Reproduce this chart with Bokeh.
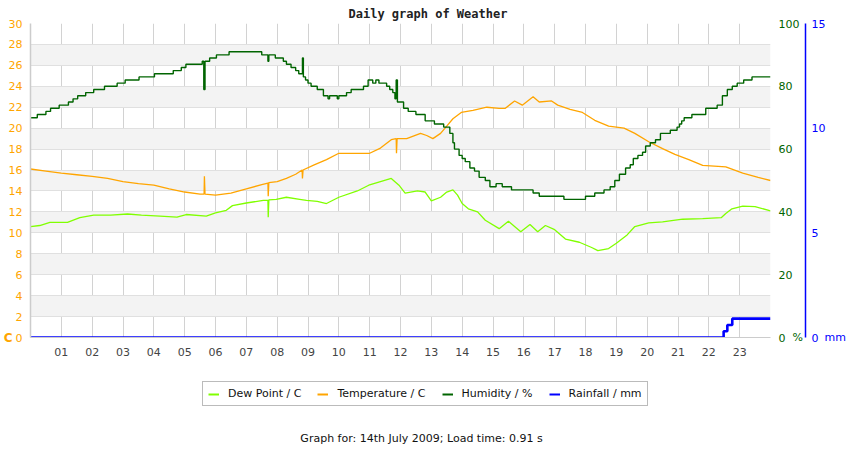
from bokeh.embed import file_html
from bokeh.layouts import column
from bokeh.models import FixedTicker, Label, Legend, LegendItem, LinearAxis, Range1d
from bokeh.plotting import figure
from bokeh.resources import INLINE

# axis ticks
hours = list(range(1, 24))
hour_labels = ["%02d" % h for h in hours]
grid_hours = list(range(0, 25))
temp_ticks = list(range(0, 31, 2))
hum_ticks = [0, 20, 40, 60, 80, 100]
rain_ticks = [0, 5, 10, 15]

# humidity (%) - step values
hum_t = [0.0, 0.22, 0.5, 0.65, 0.93, 1.23, 1.38, 1.53, 1.79, 2.05, 2.4, 2.81, 3.07, 3.52,
         4.02, 4.63, 4.89, 5.04, 5.57, 5.62, 5.66, 5.81, 6.03, 6.44, 7.5, 7.7, 7.73, 7.94,
         8.2, 8.3, 8.45, 8.6, 8.7, 8.82, 8.85, 8.92, 9.0, 9.1, 9.3, 9.5, 9.65, 9.7, 9.95,
         10.0, 10.25, 10.4, 10.8, 10.95, 11.1, 11.2, 11.3, 11.55, 11.65, 11.75, 11.82, 11.86,
         11.9, 12.1, 12.25, 12.5, 12.8, 13.1, 13.4, 13.6, 13.7, 13.75, 13.9, 14.0, 14.1,
         14.25, 14.4, 14.55, 14.75, 14.9, 15.1, 15.3, 15.6, 16.3, 16.5, 17.3, 18.0, 18.3,
         18.6, 18.8, 18.95, 19.1, 19.3, 19.45, 19.55, 19.7, 19.85, 19.95, 20.1, 20.27,
         20.43, 20.75, 20.97, 21.05, 21.12, 21.2, 21.45, 21.9, 22.27, 22.44, 22.6, 22.76,
         22.92, 23.13, 23.4, 24.0]
hum_v = [70, 71, 72, 73, 74, 75, 76, 77, 78, 79, 80, 81, 82, 83,
         84, 85, 86, 87, 88, 79, 88, 89, 90, 91, 90, 88, 90, 89,
         88, 87, 86, 85, 84, 89, 83, 82, 81, 80, 79, 77, 76, 77, 76,
         77, 78, 79, 80, 82, 81, 82, 81, 80, 79, 78, 76, 82,
         75, 73, 72, 71, 69, 68, 67, 65, 62, 60, 58, 57, 56,
         54, 53, 51, 50, 48, 49, 48, 47, 46, 45, 44, 45, 46,
         47, 48, 50, 52, 54, 55, 57, 58, 59, 61, 62, 63,
         65, 66, 67, 68, 69, 70, 71, 73, 74, 77, 79, 80,
         81, 82, 83, 83]

# temperature (C)
temp_t = [0.0, 0.5, 1.0, 1.5, 2.0, 2.5, 3.0, 3.5, 4.0, 4.5, 5.0, 5.5, 5.63, 5.64, 5.66,
          6.0, 6.5, 7.0, 7.5, 7.7, 7.71, 7.73, 8.0, 8.3, 8.6, 8.81, 8.82, 8.84, 9.2, 9.6,
          10.0, 10.6, 11.0, 11.35, 11.7, 11.86, 11.87, 11.89, 12.2, 12.65, 12.85, 13.05,
          13.3, 13.5, 13.7, 13.97, 14.35, 14.8, 15.2, 15.4, 15.7, 15.95, 16.3, 16.5, 16.9,
          17.1, 17.5, 17.9, 18.3, 18.75, 19.25, 19.6, 20.05, 20.5, 20.9, 21.35, 21.8,
          22.55, 23.1, 23.6, 24.0]
temp_v = [16.1, 15.9, 15.7, 15.55, 15.4, 15.2, 14.9, 14.7, 14.55, 14.2, 13.9, 13.7, 13.7, 15.4, 13.7,
          13.6, 13.8, 14.2, 14.6, 14.75, 13.5, 14.8, 14.9, 15.2, 15.6, 16.0, 15.2, 16.0, 16.5, 17.0,
          17.6, 17.6, 17.6, 18.1, 18.9, 19.0, 17.6, 19.0, 19.0, 19.5, 19.3, 19.0,
          19.5, 20.2, 20.9, 21.5, 21.7, 22.0, 21.9, 21.9, 22.6, 22.2, 23.0, 22.5, 22.6,
          22.2, 21.8, 21.5, 20.75, 20.2, 20.0, 19.5, 18.7, 18.05, 17.5, 17.0, 16.45,
          16.3, 15.7, 15.3, 15.0]

# dew point (C)
dew_t = [0.0, 0.3, 0.63, 1.2, 1.6, 2.05, 2.6, 3.15, 3.6, 4.2, 4.75, 5.05, 5.7, 6.0, 6.35,
         6.55, 7.0, 7.55, 7.7, 7.71, 7.73, 7.97, 8.3, 8.73, 8.95, 9.3, 9.6, 10.0, 10.6,
         10.97, 11.35, 11.7, 11.95, 12.15, 12.55, 12.8, 13.0, 13.3, 13.5, 13.7, 13.85,
         14.0, 14.2, 14.5, 14.75, 15.2, 15.5, 15.9, 16.2, 16.45, 16.7, 17.0, 17.35, 17.8,
         18.2, 18.4, 18.75, 19.0, 19.35, 19.6, 20.05, 20.5, 21.15, 21.8, 22.4, 22.55,
         22.75, 23.1, 23.5, 24.0]
dew_v = [10.6, 10.7, 11.0, 11.0, 11.45, 11.7, 11.7, 11.8, 11.7, 11.6, 11.5, 11.75, 11.6, 11.9, 12.15,
         12.6, 12.85, 13.1, 13.1, 11.5, 13.15, 13.2, 13.4, 13.2, 13.1, 13.0, 12.8, 13.4, 14.0,
         14.55, 14.9, 15.2, 14.55, 13.8, 14.0, 13.9, 13.05, 13.4, 13.9, 14.1, 13.6,
         12.8, 12.3, 12.0, 11.2, 10.4, 11.1, 10.1, 10.8, 10.1, 10.7, 10.3, 9.4, 9.1,
         8.6, 8.3, 8.5, 9.0, 9.8, 10.6, 10.95, 11.05, 11.3, 11.35, 11.45, 11.85,
         12.3, 12.55, 12.5, 12.1]

# rainfall (mm) - step values
rain_t = [0.0, 22.48, 22.6, 22.76, 24.0]
rain_v = [0.0, 0.3, 0.6, 0.9, 0.9]

series_names = ["Dew Point / C", "Temperature / C", "Humidity / %", "Rainfall / mm"]

ORANGE = "#ffa500"
DEW = "#80ff00"
HUM = "#006400"
RAIN = "#0000ff"
FONT = "DejaVu Sans"

p = figure(width=850, height=365, x_range=Range1d(0, 24), y_range=Range1d(0, 30),
           output_backend="svg", toolbar_location=None,
           min_border_left=30, min_border_right=80, min_border_top=23, min_border_bottom=28)
p.outline_line_color = None
p.background_fill_color = "white"
p.border_fill_color = "white"

p.title.text = "Daily graph of Weather"
p.title.align = "left"
p.title.offset = 318
p.title.standoff = 6
p.title.text_font = "DejaVu Sans Mono"
p.title.text_font_style = "bold"
p.title.text_font_size = "12px"
p.title.text_color = "#222222"

p.extra_y_ranges["hum"] = Range1d(0, 100)
p.extra_y_ranges["rain"] = Range1d(0, 15)

# grids
p.xgrid.ticker = FixedTicker(ticks=grid_hours)
p.xgrid.grid_line_color = "#d2d2d2"
p.ygrid.ticker = FixedTicker(ticks=temp_ticks)
p.ygrid.grid_line_color = "#e0e0e0"
p.ygrid.band_fill_color = "#f3f3f3"
p.ygrid.band_fill_alpha = 1.0

# x axis
p.xaxis.ticker = FixedTicker(ticks=hours)
p.xaxis.major_label_overrides = dict(zip(hours, hour_labels))
p.xaxis.major_tick_out = 0
p.xaxis.major_tick_in = 0
p.xaxis.minor_tick_line_color = None
p.xaxis.major_label_standoff = 10
p.xaxis.axis_line_color = "#cccccc"
p.xaxis.major_label_text_color = "#444444"
p.xaxis.major_label_text_font = FONT
p.xaxis.major_label_text_font_size = "11px"

# left temperature axis
p.yaxis.ticker = FixedTicker(ticks=temp_ticks)
p.yaxis.major_tick_out = 0
p.yaxis.major_tick_in = 0
p.yaxis.minor_tick_line_color = None
p.yaxis.major_label_standoff = 8
p.yaxis.axis_line_color = "#cccccc"
p.yaxis.axis_line_width = 1.5
p.yaxis.major_label_text_color = ORANGE
p.yaxis.major_label_text_font = FONT
p.yaxis.major_label_text_font_size = "11px"
p.yaxis.axis_label = "C"
p.yaxis.axis_label_orientation = "horizontal"
p.yaxis.axis_label_align = "start"
p.yaxis.axis_label_standoff = -7
p.yaxis.axis_label_text_font = FONT
p.yaxis.axis_label_text_font_style = "bold"
p.yaxis.axis_label_text_font_size = "12px"
p.yaxis.axis_label_text_color = ORANGE

# right humidity axis
hum_axis = LinearAxis(y_range_name="hum", ticker=FixedTicker(ticks=hum_ticks),
                      axis_line_color=None, major_tick_line_color=None,
                      minor_tick_line_color=None, major_label_standoff=2,
                      major_label_text_color=HUM, major_label_text_font=FONT,
                      major_label_text_font_size="11px",
                      axis_label="%", axis_label_orientation="horizontal",
                      axis_label_align="start", axis_label_standoff=-10,
                      axis_label_text_font=FONT, axis_label_text_font_style="normal",
                      axis_label_text_font_size="11px", axis_label_text_color=HUM)
p.add_layout(hum_axis, "right")

# right rainfall axis
rain_axis = LinearAxis(y_range_name="rain", ticker=FixedTicker(ticks=rain_ticks),
                       axis_line_color=RAIN, axis_line_width=1.5,
                       major_tick_line_color=None, minor_tick_line_color=None,
                       major_label_standoff=0, major_label_text_color=RAIN,
                       major_label_text_font=FONT, major_label_text_font_size="11px",
                       axis_label="mm", axis_label_orientation="horizontal",
                       axis_label_align="start", axis_label_standoff=-4,
                       axis_label_text_font=FONT, axis_label_text_font_style="normal",
                       axis_label_text_font_size="11px", axis_label_text_color=RAIN)
p.add_layout(rain_axis, "right")

# series
p.line(dew_t, dew_v, line_color=DEW, line_width=1.3)
p.line(temp_t, temp_v, line_color=ORANGE, line_width=1.3)
p.step(hum_t, hum_v, mode="after", line_color=HUM, line_width=1.4, y_range_name="hum")
p.step(rain_t, rain_v, mode="after", line_color=RAIN, line_width=2.6, y_range_name="rain")

# legend and footnote strip below the chart (its series lie outside its view,
# they only feed the legend swatches)
foot = figure(width=850, height=85, x_range=Range1d(-2, -1), y_range=Range1d(0, 1),
              x_axis_type=None, y_axis_type=None, output_backend="svg",
              toolbar_location=None, min_border=0)
foot.outline_line_color = None
foot.grid.visible = False

sw_dew = foot.line(dew_t, dew_v, line_color=DEW, line_width=2)
sw_temp = foot.line(temp_t, temp_v, line_color=ORANGE, line_width=2)
sw_hum = foot.line(hum_t, hum_v, line_color=HUM, line_width=2)
sw_rain = foot.line(rain_t, rain_v, line_color=RAIN, line_width=2)
swatches = [sw_dew, sw_temp, sw_hum, sw_rain]

legend = Legend(items=[LegendItem(label=n, renderers=[r]) for n, r in zip(series_names, swatches)],
                orientation="horizontal", location=(172, 44),
                label_text_font=FONT, label_text_font_size="11px",
                label_text_color="#111111", glyph_width=11, glyph_height=12,
                label_standoff=9, spacing=16, padding=5, margin=0,
                border_line_color="#777777", border_line_width=1,
                background_fill_color="white", background_fill_alpha=1.0)
foot.add_layout(legend)

foot.add_layout(Label(x=391, y=12, x_units="screen", y_units="screen",
                      text="Graph for: 14th July 2009; Load time: 0.91 s",
                      text_align="center", text_baseline="middle", text_font=FONT,
                      text_font_size="11px", text_color="#111111"))

layout = column(p, foot, spacing=0)
open("out.html", "w").write(file_html(layout, INLINE))
